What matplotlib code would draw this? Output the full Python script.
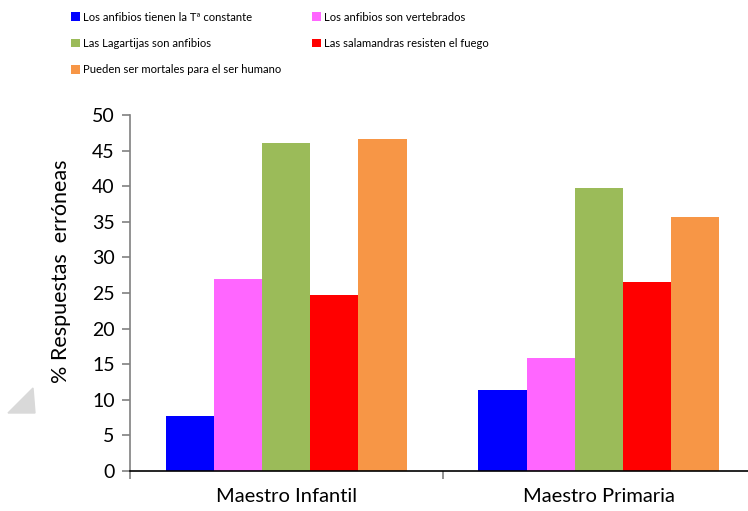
import numpy as np
import matplotlib.pyplot as plt
from matplotlib.patches import Polygon

# Datos del gráfico
grupos = ['Maestro Infantil', 'Maestro Primaria']
series = ['Los anfibios tienen la Tª constante',
          'Los anfibios son vertebrados',
          'Las Lagartijas son anfibios',
          'Las salamandras resisten el fuego',
          'Pueden ser mortales para el ser humano']
tcte = [7.7, 11.4]
vertebrados = [26.9, 15.9]
lagartijas = [46.1, 39.7]
salamandras = [24.7, 26.5]
mortales = [46.6, 35.7]
colores = ['#0000ff', '#ff66ff', '#9bbb59', '#ff0000', '#f79646']

plt.rcParams['font.family'] = ['Lato', 'DejaVu Sans']

fig = plt.figure(figsize=(7.48, 5.11), dpi=100)
ax = fig.add_axes([130 / 748, 40 / 511, 625 / 748, 356 / 511])

x = np.arange(len(grupos))
ancho = 0.154
valores = [tcte, vertebrados, lagartijas, salamandras, mortales]
barras = []
for i, (v, c, s) in enumerate(zip(valores, colores, series)):
    b = ax.bar(x + (i - 2) * ancho, v, ancho, color=c, label=s)
    barras.append(b)

ax.set_xlim(-0.5, 1.5)
ax.set_ylim(0, 50)
ax.set_yticks(np.arange(0, 51, 5))
ax.set_xticks([-0.5, 0.5, 1.5])
ax.set_xticklabels([])
ax.set_xticks(x, minor=True)
ax.set_xticklabels(grupos, minor=True, fontsize=14.5)
ax.tick_params(axis='x', which='minor', length=0, pad=12)
ax.tick_params(axis='x', which='major', length=6, color='#808080', width=1.2)
ax.tick_params(axis='y', length=6, color='#808080', width=1.2, labelsize=14, pad=5)

ax.spines['top'].set_visible(False)
ax.spines['right'].set_visible(False)
ax.spines['left'].set_color('#808080')
ax.spines['left'].set_linewidth(1.2)
ax.spines['bottom'].set_color('black')
ax.spines['bottom'].set_linewidth(1.2)

ax.set_ylabel('% Respuestas  erróneas', fontsize=15.5)
ax.yaxis.set_label_coords(-59 / 625, 0.562)

# Leyenda en dos columnas, orden por filas
orden = [0, 2, 4, 1, 3]
fig.legend([barras[i] for i in orden], [series[i] for i in orden],
           ncol=2, loc='upper left', bbox_to_anchor=(0.081, 0.997),
           frameon=False, fontsize=8.1, handlelength=0.8, handleheight=0.8,
           handletextpad=0.25, columnspacing=2.8, labelspacing=1.36,
           borderaxespad=0.5)

# Triángulo gris en la esquina
tri = Polygon([(33 / 748, 1 - 388 / 511), (8 / 748, 1 - 413 / 511), (35 / 748, 1 - 413 / 511)],
              closed=True, transform=fig.transFigure, color='#d9d9d9')
fig.patches.append(tri)

fig.savefig('out.png', dpi=100)
